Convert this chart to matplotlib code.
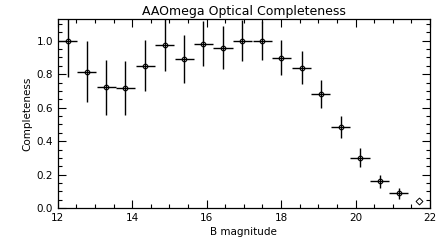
import matplotlib
matplotlib.use('Agg')
import matplotlib.pyplot as plt
from matplotlib.ticker import MultipleLocator

# magnitude bin centres and completeness
mag = [12.27, 12.78, 13.31, 13.82, 14.35, 14.87, 15.40, 15.91, 16.44,
       16.96, 17.50, 18.01, 18.55, 19.06, 19.60, 20.12, 20.65, 21.16]
comp = [1.0, 0.814, 0.722, 0.716, 0.85, 0.976, 0.892, 0.982, 0.958,
        1.0, 1.0, 0.898, 0.838, 0.682, 0.484, 0.30, 0.16, 0.088]
comp_err = [0.22, 0.182, 0.165, 0.16, 0.152, 0.155, 0.143, 0.134, 0.128,
            0.124, 0.118, 0.105, 0.098, 0.086, 0.068, 0.056, 0.038, 0.032]
mag_err = 0.26

# last bin plotted on its own (no error bars)
last_mag = [21.69]
last_comp = [0.044]

fig = plt.figure(figsize=(4.42, 2.42), dpi=100)
ax = fig.add_axes([0.1305, 0.14, 0.8425, 0.782])

ax.errorbar(mag, comp, yerr=comp_err, xerr=mag_err, fmt='o', color='black',
            mfc='none', mec='black', ms=3.3, mew=0.8, elinewidth=1.0, capsize=0)
ax.plot(last_mag, last_comp, 'D', mfc='none', mec='black', ms=3.5, mew=0.7)

ax.set_xlim(12, 22)
ax.set_ylim(0, 1.13)
ax.xaxis.set_major_locator(MultipleLocator(2))
ax.xaxis.set_minor_locator(MultipleLocator(0.5))
ax.yaxis.set_major_locator(MultipleLocator(0.2))
ax.yaxis.set_minor_locator(MultipleLocator(0.05))
ax.yaxis.set_major_formatter(plt.FormatStrFormatter('%.1f'))
ax.tick_params(which='both', direction='in', top=True, right=True,
               labelsize=7.5, width=0.8)
ax.tick_params(which='major', length=6)
ax.tick_params(which='minor', length=3)
for s in ax.spines.values():
    s.set_linewidth(0.9)

ax.set_title('AAOmega Optical Completeness', fontsize=9, pad=3)
ax.set_xlabel('B magnitude', fontsize=7.5, labelpad=3)
ax.set_ylabel('Completeness', fontsize=7.5, labelpad=3)

fig.savefig('out.png', dpi=100)
